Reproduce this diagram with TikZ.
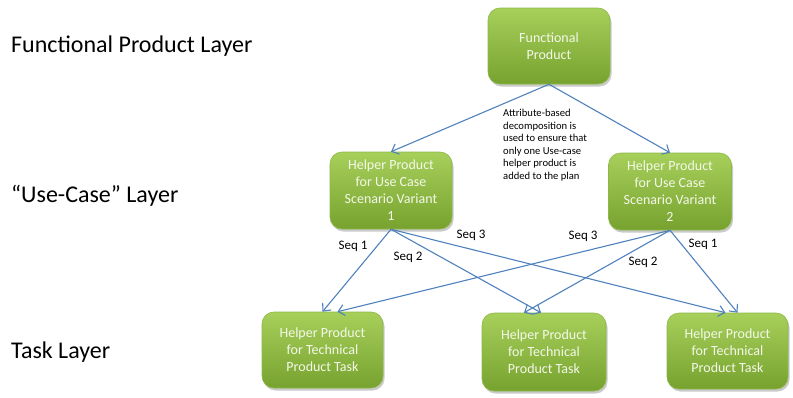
\documentclass[tikz,border=0pt]{standalone}
\usepackage{fontspec}
\setmainfont{Carlito}
\usetikzlibrary{arrows.meta,shadows,calc}
\definecolor{gtop}{HTML}{A6D05A}
\definecolor{gbot}{HTML}{78A22F}
\definecolor{gdraw}{HTML}{8CB847}
\definecolor{arrowblue}{HTML}{4F81BD}
\definecolor{boxtext}{HTML}{F4F8EA}
\tikzset{
  greenbox/.style={draw=gdraw, line width=0.6pt, rounded corners=12pt,
    top color=gtop, bottom color=gbot, text=boxtext, align=center,
    font=\fontsize{14}{17}\selectfont, inner sep=0pt,
    drop shadow={shadow xshift=1.5pt, shadow yshift=-2.5pt, opacity=0.35, fill=black!60}},
  conn/.style={draw=arrowblue, line width=1.1pt, -{Straight Barb[length=6pt,width=11pt]}},
  layer/.style={anchor=west, font=\fontsize{24}{28}\selectfont, inner sep=0pt},
  seqlbl/.style={font=\fontsize{13}{15}\selectfont, inner sep=0pt}
}
\begin{document}
\begin{tikzpicture}[x=1pt,y=-1pt]
\useasboundingbox (0,0) rectangle (793,397);
\node[layer] (l1) at (11,46) {Functional Product Layer};
\node[layer] (l2) at (11,196) {“Use-Case” Layer};
\node[layer] (l3) at (11,352) {Task Layer};

\node[greenbox, minimum width=122pt, minimum height=76pt] (top) at (549,46) {Functional\\Product};
\node[greenbox, minimum width=122pt, minimum height=77pt] (uc1) at (391,190.5) {Helper Product\\for Use Case\\Scenario Variant\\1};
\node[greenbox, minimum width=123pt, minimum height=77pt] (uc2) at (670,191.5) {Helper Product\\for Use Case\\Scenario Variant\\2};
\node[greenbox, minimum width=121pt, minimum height=76pt] (t1) at (322.5,350) {Helper Product\\for Technical\\Product Task};
\node[greenbox, minimum width=124pt, minimum height=78pt] (t2) at (544,352) {Helper Product\\for Technical\\Product Task};
\node[greenbox, minimum width=121pt, minimum height=76pt] (t3) at (727.5,351) {Helper Product\\for Technical\\Product Task};

\node[anchor=north west, align=left, inner sep=0pt, font=\fontsize{10.6}{12.6}\selectfont] (note) at (503,109)
  {Attribute-based\\decomposition is\\used to ensure that\\only one Use-case\\helper product is\\added to the plan};

\draw[conn] (top.south) -- (uc1.north);
\draw[conn] (top.south) -- (uc2.north);

\draw[conn] (uc1.south) -- (t1.north);
\draw[conn] (uc1.south) -- ([xshift=-3pt]t2.north);
\draw[conn] (uc1.south) -- ([xshift=-2pt]t3.north);
\draw[conn] (uc2.south) -- ([xshift=15pt]t1.north);
\draw[conn] (uc2.south) -- ([xshift=-20pt]t2.north);
\draw[conn] (uc2.south) -- ([xshift=10pt]t3.north);

\node[seqlbl] (s11) at (353,246) {Seq 1};
\node[seqlbl] (s12) at (408,257) {Seq 2};
\node[seqlbl] (s13) at (471,235) {Seq 3};
\node[seqlbl] (s23) at (583,236) {Seq 3};
\node[seqlbl] (s22) at (643,262) {Seq 2};
\node[seqlbl] (s21) at (703,244) {Seq 1};
\end{tikzpicture}
\end{document}
